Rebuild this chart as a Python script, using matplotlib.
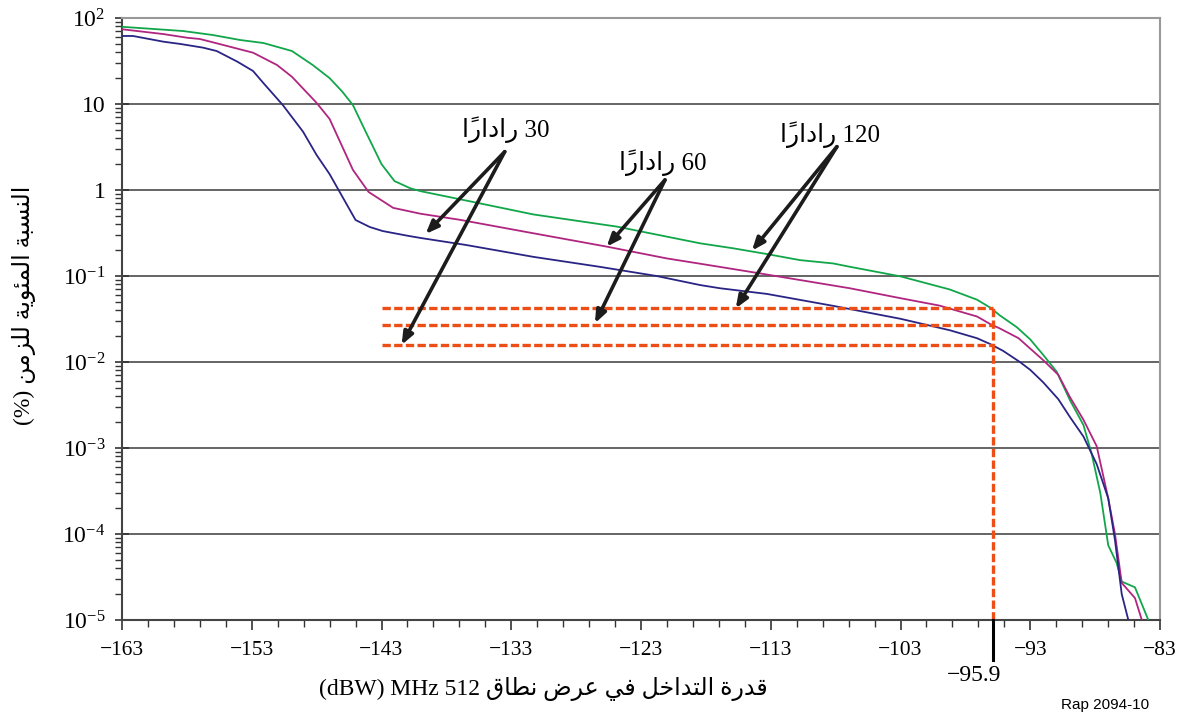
import numpy as np
import matplotlib
matplotlib.use("Agg")
import matplotlib.pyplot as plt
from matplotlib.ticker import LogLocator, NullFormatter, FixedLocator
from matplotlib import font_manager

# ---------------- data ----------------
x_green = [-163, -158.3, -156.0, -153.9, -152.1, -149.9, -148.3, -147.0, -146.0, -145.2,
           -144.2, -143.0, -142.0, -140.8, -140.0, -136.4, -131.3, -124.85, -118.45, -115.9,
           -113.3, -110.75, -108.2, -106.9, -103.0, -99.2, -97.1, -96.1, -95.33, -94.05,
           -93.0, -92.0, -90.96, -89.94, -88.9, -88.27, -87.6, -86.99, -86.34, -85.95,
           -84.93, -83.9]
y_green = [79, 70.6, 63.4, 55.5, 51.2, 41.3, 28.4, 20, 13.8, 9.7,
           4.7, 2.0, 1.27, 1.05, 0.97, 0.75, 0.52, 0.375, 0.24, 0.21,
           0.18, 0.153, 0.14, 0.128, 0.099, 0.0697, 0.053, 0.043, 0.0347, 0.0255,
           0.0183, 0.0121, 0.0077, 0.0036, 0.00185, 8.6e-4, 3.0e-4, 7.4e-5, 4.6e-5, 2.8e-5,
           2.4e-5, 1e-5]

x_magenta = [-163, -159.8, -158.0, -157.0, -155.7, -152.9, -151.05, -149.9, -148.0, -147.0,
             -145.2, -144.0, -142.1, -140.0, -136.95, -131.3, -125.6, -121.0, -118.45, -114.6,
             -110.75, -106.9, -103.0, -100.0, -97.1, -96.1, -95.33, -93.9, -92.0, -90.84,
             -89.94, -88.9, -87.88, -86.99, -86.47, -85.95, -84.93, -84.4]
y_magenta = [74, 65, 59, 57, 50.8, 39.5, 28.4, 20.7, 10.3, 6.7,
             1.71, 0.95, 0.62, 0.53, 0.45, 0.314, 0.219, 0.16, 0.139, 0.112,
             0.0898, 0.072, 0.0552, 0.0453, 0.0338, 0.0277, 0.0245, 0.0189, 0.0105, 0.0071,
             0.0039, 0.00213, 1.05e-3, 2.6e-4, 1e-4, 2.7e-5, 1.8e-5, 1e-5]

x_blue = [-163, -162.15, -159.8, -158.5, -156.75, -155.7, -154.1, -152.9, -152.1, -150.6,
          -149.05, -148.0, -147.0, -145.0, -143.9, -142.9, -141.0, -140.0, -136.45, -131.3,
          -126.2, -121.8, -118.45, -116.9, -113.3, -108.2, -103.0, -99.2, -97.1, -96.1,
          -95.1, -93.8, -93.0, -92.0, -90.84, -89.94, -88.9, -87.88, -86.99, -86.47,
          -85.95, -85.44]
y_blue = [61.8, 61.8, 53, 49.9, 45.2, 41.3, 31, 24.2, 17.5, 9.7,
          4.77, 2.55, 1.53, 0.448, 0.371, 0.333, 0.294, 0.277, 0.229, 0.167,
          0.128, 0.1, 0.0785, 0.072, 0.0619, 0.045, 0.0318, 0.0234, 0.0189, 0.0162,
          0.0135, 0.01, 0.0081, 0.0058, 0.0037, 0.00229, 1.36e-3, 6.5e-4, 2.6e-4, 8.5e-5,
          2.0e-5, 1e-5]

ref_levels = [0.043, 0.027, 0.0156]   # 120, 60, 30 radars at -95.9 dBW
ref_x_start = -143.0
ref_x = -95.9

x_major = list(range(-163, -82, 10))
y_major = [1e-5, 1e-4, 1e-3, 1e-2, 1e-1, 1, 10, 100]
y_labels = [r'$\mathregular{10^{-5}}$', r'$\mathregular{10^{-4}}$', r'$\mathregular{10^{-3}}$',
            r'$\mathregular{10^{-2}}$', r'$\mathregular{10^{-1}}$', '1', '10',
            r'$\mathregular{10^{2}}$']

# arrows: (label origin, tips)
arrow_30 = [(-133.5, 2.79), (-139.6, 0.308), (-141.45, 0.0158)]
arrow_60 = [(-121.15, 1.31), (-125.65, 0.219), (-126.55, 0.0282)]
arrow_120 = [(-107.9, 3.19), (-114.45, 0.197), (-115.7, 0.042)]
label_pos = {'30': (-133.4, 4.99), '60': (-121.3, 2.06), '120': (-108.4, 4.36)}

# ---------------- Arabic shaping (presentation forms, visual order) ----------------
FORMS = {
    '\u0627': ('\uFE8D', '\uFE8E'),
    '\u0628': ('\uFE8F', '\uFE90', '\uFE91', '\uFE92'),
    '\u0629': ('\uFE93', '\uFE94'),
    '\u062A': ('\uFE95', '\uFE96', '\uFE97', '\uFE98'),
    '\u062E': ('\uFEA5', '\uFEA6', '\uFEA7', '\uFEA8'),
    '\u062F': ('\uFEA9', '\uFEAA'),
    '\u0631': ('\uFEAD', '\uFEAE'),
    '\u0632': ('\uFEAF', '\uFEB0'),
    '\u0633': ('\uFEB1', '\uFEB2', '\uFEB3', '\uFEB4'),
    '\u0636': ('\uFEBD', '\uFEBE', '\uFEBF', '\uFEC0'),
    '\u0637': ('\uFEC1', '\uFEC2', '\uFEC3', '\uFEC4'),
    '\u0639': ('\uFEC9', '\uFECA', '\uFECB', '\uFECC'),
    '\u0641': ('\uFED1', '\uFED2', '\uFED3', '\uFED4'),
    '\u0642': ('\uFED5', '\uFED6', '\uFED7', '\uFED8'),
    '\u0644': ('\uFEDD', '\uFEDE', '\uFEDF', '\uFEE0'),
    '\u0645': ('\uFEE1', '\uFEE2', '\uFEE3', '\uFEE4'),
    '\u0646': ('\uFEE5', '\uFEE6', '\uFEE7', '\uFEE8'),
    '\u0648': ('\uFEED', '\uFEEE'),
    '\u064A': ('\uFEF1', '\uFEF2', '\uFEF3', '\uFEF4'),
    '\u0626': ('\uFE89', '\uFE8A', '\uFE8B', '\uFE8C'),
}
MARKS = {'\u064B', '\u064E', '\u0650', '\u064F', '\u0651', '\u0652'}


def shape(text):
    chars = list(text)
    n = len(chars)
    out = []
    for i, c in enumerate(chars):
        if c not in FORMS:
            out.append(c)
            continue
        j = i - 1
        while j >= 0 and chars[j] in MARKS:
            j -= 1
        k = i + 1
        while k < n and chars[k] in MARKS:
            k += 1
        prev_joins = j >= 0 and chars[j] in FORMS and len(FORMS[chars[j]]) == 4
        next_joins = (k < n and chars[k] in FORMS and len(FORMS[c]) == 4)
        f = FORMS[c]
        if prev_joins and next_joins:
            out.append(f[3])
        elif prev_joins:
            out.append(f[1])
        elif next_joins:
            out.append(f[2])
        else:
            out.append(f[0])
    clusters = []
    for c in out:
        if c in MARKS and clusters:
            clusters[-1] += c
        else:
            clusters.append(c)
    return ''.join(reversed(clusters))


radar_word = shape('راداراً')
ylabel_text = '(%) ' + shape('النسبة المئوية للزمن')
xlabel_text = '(dBW) MHz 512 ' + shape('قدرة التداخل في عرض نطاق')

# ---------------- style ----------------
plt.rcParams['font.family'] = ['Liberation Serif', 'DejaVu Sans']
plt.rcParams['mathtext.fontset'] = 'custom'
plt.rcParams['mathtext.rm'] = 'Liberation Serif'
plt.rcParams['mathtext.it'] = 'Liberation Serif:italic'

fig = plt.figure(figsize=(11.9, 7.19), dpi=100)
ax = fig.add_axes([122 / 1190, 1 - 620 / 719, (1160 - 122) / 1190, (620 - 18) / 719])

c_green = '#12A64A'
c_mag = '#B0257F'
c_blue = '#2A2485'
c_ref = '#EC4E16'

ax.set_yscale('log')
ax.set_xlim(-163, -83)
ax.set_ylim(1e-5, 100)

ax.yaxis.grid(True, which='major', color='#3a3a3a', lw=1.1, zorder=0)

ax.plot(x_green, y_green, color=c_green, lw=1.3, zorder=3)
ax.plot(x_magenta, y_magenta, color=c_mag, lw=1.3, zorder=3)
ax.plot(x_blue, y_blue, color=c_blue, lw=1.3, zorder=3)

for lvl in ref_levels:
    ax.plot([ref_x_start, ref_x], [lvl, lvl], color=c_ref, lw=2.4,
            linestyle=(0, (2.5, 1.0)), zorder=4)
ax.plot([ref_x, ref_x], [1e-5, max(ref_levels)], color=c_ref, lw=2.4,
        linestyle=(0, (2.5, 1.0)), zorder=4)

# marker tick at -95.9 below axis
trans = ax.get_xaxis_transform()
ax.plot([ref_x, ref_x], [0, -0.066], color='black', lw=2.2, transform=trans,
        clip_on=False, zorder=5)
ax.text(-97.3, -0.092, '\u221295.9', transform=trans, ha='center', va='center',
        fontsize=17)

# arrows
for grp in (arrow_30, arrow_60, arrow_120):
    origin = grp[0]
    for tip in grp[1:]:
        ax.annotate('', xy=tip, xytext=origin,
                    arrowprops=dict(arrowstyle='-|>,head_length=0.75,head_width=0.3',
                                    lw=2.6, color='#1c1c1c', shrinkA=0, shrinkB=0),
                    zorder=6)

for num, (lx, ly) in label_pos.items():
    ax.text(lx, ly, radar_word + ' ' + num, ha='center', va='center', fontsize=18,
            zorder=7)

# axes ticks
ax.set_xticks(x_major)
ax.set_xticklabels(['\u2212%d' % abs(v) for v in x_major])
ax.xaxis.set_minor_locator(FixedLocator(list(range(-163, -82, 2))))
ax.set_yticks(y_major)
ax.set_yticklabels(y_labels)
ax.yaxis.set_minor_locator(LogLocator(base=10, subs=np.arange(2, 10), numticks=20))
ax.yaxis.set_minor_formatter(NullFormatter())

ax.tick_params(axis='x', which='major', labelsize=15.5, color='#333', width=1.2,
               direction='out', length=7, pad=8)
ax.tick_params(axis='x', which='minor', direction='out', length=5, color='#333', width=1.0)
ax.tick_params(axis='y', which='major', labelsize=17, color='#333', width=1.2,
               direction='inout', length=10, pad=7)
ax.tick_params(axis='y', which='minor', direction='out', length=5, color='#333', width=1.0)

for side in ('left', 'bottom'):
    ax.spines[side].set_color('#444')
    ax.spines[side].set_linewidth(1.5)
for side in ('top', 'right'):
    ax.spines[side].set_color('#999')
    ax.spines[side].set_linewidth(1.5)

fig.text(543 / 1190, 1 - 689 / 719, xlabel_text, ha='center', va='center', fontsize=17)
fig.text(24 / 1190, 1 - 305 / 719, ylabel_text, ha='center', va='center', fontsize=17,
         rotation=90)

narrow = 'Liberation Sans Narrow'
try:
    font_manager.findfont(narrow, fallback_to_default=False)
except Exception:
    narrow = 'Liberation Sans'
fig.text(1105 / 1190, 1 - 705 / 719, 'Rap 2094-10', ha='center', va='center',
         fontsize=11, family=narrow)

fig.savefig('out.png', dpi=100)
